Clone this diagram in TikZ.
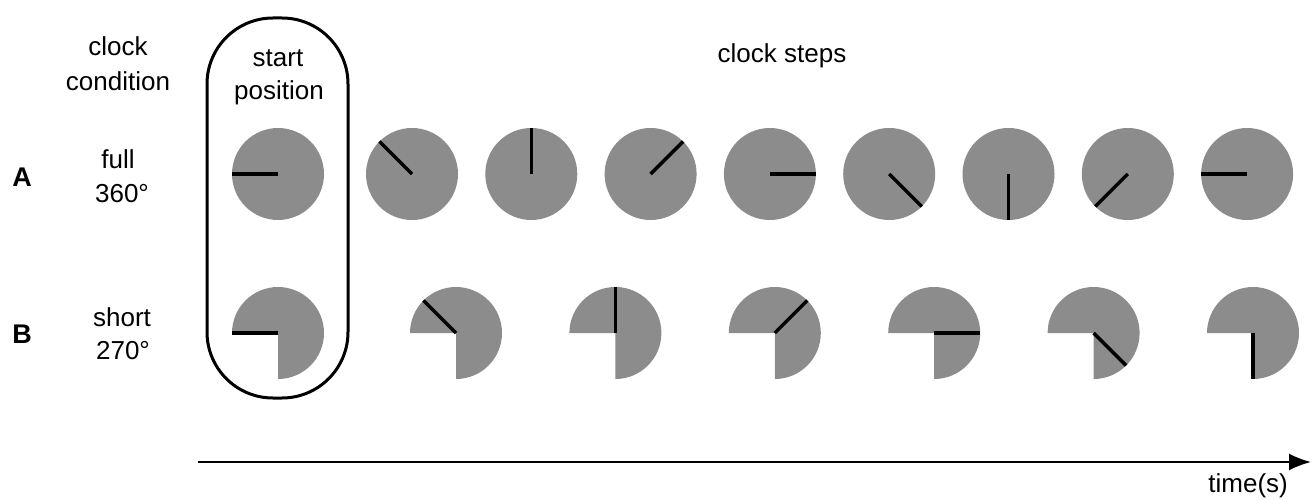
\documentclass[tikz,border=0pt]{standalone}
\usepackage{fontspec}
\setmainfont{Liberation Sans}
\usetikzlibrary{arrows.meta}
\definecolor{clockgray}{HTML}{8C8C8C}
\tikzset{
  lbl/.style={inner sep=0pt, anchor=base, font=\fontsize{26}{30}\selectfont},
  rowlbl/.style={inner sep=0pt, anchor=base, font=\fontsize{27}{30}\selectfont\bfseries},
  hand/.style={line width=3.4pt, black},
  dial/.style={fill=clockgray},
  startbox/.style={line width=3pt, rounded corners=66pt},
  timeaxis/.style={line width=2pt, -{Latex[length=22pt, width=17pt]}}
}
\begin{document}
\begin{tikzpicture}[x=1pt, y=1pt]
\useasboundingbox (0,0) rectangle (1313,499);
% labels
\node[lbl] (cc1) at (118,443) {clock};
\node[lbl] (cc2) at (118,408) {condition};
\node[lbl] (sp1) at (278,432) {start};
\node[lbl] (sp2) at (279,399) {position};
\node[lbl] (cs) at (782,436) {clock steps};
\node[rowlbl] (A) at (22,313) {A};
\node[rowlbl] (B) at (22,156) {B};
\node[lbl] (fa1) at (118,331) {full};
\node[lbl] (fa2) at (122,297) {360°};
\node[lbl] (sb1) at (122,173) {short};
\node[lbl] (sb2) at (123,140) {270°};
% start position box
\draw[startbox] (207,101) rectangle (348,481);
% row A: full clocks
\fill[dial] (278,325) circle (46);
\draw[hand] (278,325) -- ++(180:46);
\foreach \k/\a in {0/135,1/90,2/45,3/0,4/-45,5/-90,6/-135,7/180}{
  \fill[dial] ({412+119.3*\k},325) circle (46);
  \draw[hand] ({412+119.3*\k},325) -- ++(\a:46);
}
% row B: short clocks
\fill[dial] (278,166) -- ++(-90:46) arc[start angle=-90, end angle=180, radius=46] -- cycle;
\draw[hand] (278,166) -- ++(180:46);
\foreach \k/\a in {0/135,1/90,2/45,3/0,4/-45,5/-90}{
  \fill[dial] ({456+159.4*\k},166) -- ++(-90:46) arc[start angle=-90, end angle=180, radius=46] -- cycle;
  \draw[hand] ({456+159.4*\k},166) -- ++(\a:46);
}
% time axis
\coordinate (t0) at (198,37);
\coordinate (t1) at (1311,37);
\draw[timeaxis] (t0) -- (t1);
\node[lbl, anchor=base east] (time) at (1288,7) {time(s)};
\end{tikzpicture}
\end{document}
